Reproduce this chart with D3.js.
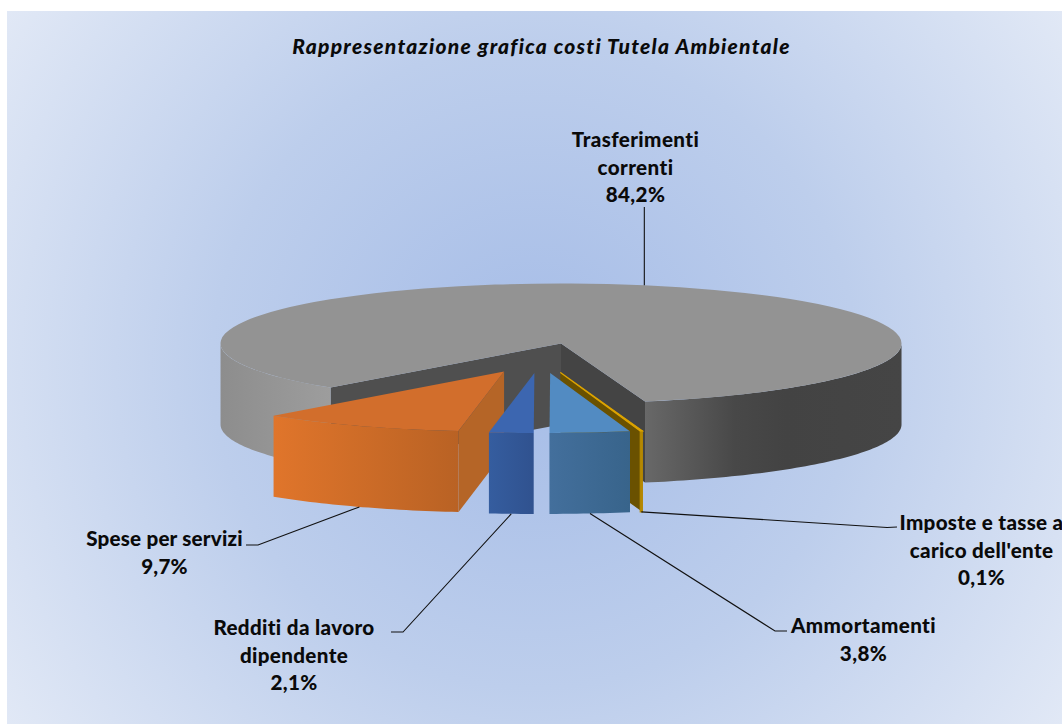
<!DOCTYPE html>
<html><head><meta charset="utf-8">
<script src="https://cdn.jsdelivr.net/npm/d3@7/dist/d3.min.js"></script>
<style>html,body{margin:0;padding:0;background:#fff;overflow:hidden}svg{display:block}text{font-family:Lato,sans-serif;font-weight:900;fill:#0a0a0a;text-anchor:middle;font-variant-ligatures:none;font-feature-settings:"liga" 0,"dlig" 0}</style>
</head><body><div id="chart"></div>
<script>
// ---- data ----
const categories = ["Trasferimenti correnti","Imposte e tasse a carico dell'ente","Ammortamenti","Redditi da lavoro dipendente","Spese per servizi"];
const values = [84.2,0.1,3.8,2.1,9.7];
const labelLines = [["Trasferimenti","correnti"],["Imposte e tasse a","carico dell'ente"],["Ammortamenti"],["Redditi da lavoro","dipendente"],["Spese per servizi"]];
const valueLabels = ["84,2%","0,1%","3,8%","2,1%","9,7%"];
const chartTitle = "Rappresentazione grafica costi Tutela Ambientale";

// ---- layout and style ----
const W=1062,H=724;
const cx=540.2,cy=358,rx=340.5,ry=60,depth=81,explode=0.25;
const startDeg=222.6;
const topColors=["#939393","#dca300","#528bc2","#3c66b0","#d26e2c"];
const wallStops=[
  null,
  ["#b58800","#b58800"],
  ["#436f9c","#38648b"],
  ["#355d9f","#30528f"],
  ["#e0752b","#b96224"]];
const cutColors=[null,"#6a5100",null,null,"#b56527"];
const labelPos=[ // centre x, first baseline, elbow
  {x:635.5,y:147,sp:0.4},
  {x:981.5,y:530,sp:0.3,elbow:[887,527.5],end:[897,527]},
  {x:863.5,y:633,sp:0.4,elbow:[775,631],end:[787,631]},
  {x:294,y:635,sp:0.35,elbow:[403,632],end:[391,632]},
  {x:164.5,y:546,sp:0.2,elbow:[258,545],end:[246,545]}];
const lineGap=27.7,fontSize=20.6;

const svg=d3.select("#chart").append("svg").attr("width",W).attr("height",H);
const defs=svg.append("defs");
const bg=defs.append("radialGradient").attr("id","bg").attr("gradientUnits","userSpaceOnUse")
  .attr("cx",534).attr("cy",366).attr("r",645);
[[0,"#a5bce7"],[0.5,"#bdceec"],[1,"#e2e9f6"]].forEach(s=>bg.append("stop").attr("offset",s[0]).attr("stop-color",s[1]));
svg.append("rect").attr("x",7).attr("y",11).attr("width",W-7).attr("height",H-11).attr("fill","url(#bg)");

const x=d3.scaleLinear().domain([-1,1]).range([cx-rx,cx+rx]);
const y=d3.scaleLinear().domain([-1,1]).range([cy-ry,cy+ry]);
// the printed shares add up to 99.9; the rounding remainder sits after the first slice
const remainder=100-d3.sum(values);
const pieInput=[values[0],remainder].concat(values.slice(1));
const arcs=d3.pie().sort(null).value(d=>d)
  .startAngle(startDeg*Math.PI/180)
  .endAngle((startDeg+360)*Math.PI/180)(pieInput)
  .filter((a,i)=>i!==1)
  .map((a,i)=>Object.assign(a,{index:i}));
const arcGen=d3.arc().innerRadius(0).outerRadius(1);

arcs.forEach(a=>{
  a.mid=(a.startAngle+a.endAngle)/2;
  a.dx=explode*Math.sin(a.mid); a.dy=-explode*Math.cos(a.mid);
  a.px=t=>x(a.dx+Math.sin(t)); a.py=t=>y(a.dy-Math.cos(t));
  a.ax=x(a.dx); a.ay=y(a.dy);
});
const line=d3.line();
function wallPath(a,t0,t1){
  const n=Math.max(2,Math.ceil(Math.abs(t1-t0)/0.02));
  const ts=d3.range(n+1).map(i=>t0+(t1-t0)*i/n);
  const up=ts.map(t=>[a.px(t),a.py(t)]);
  const dn=ts.slice().reverse().map(t=>[a.px(t),a.py(t)+depth]);
  return line(up.concat(dn))+"Z";
}
function hGrad(id,x0,x1,stops){
  const g=defs.append("linearGradient").attr("id",id).attr("gradientUnits","userSpaceOnUse")
    .attr("x1",x0).attr("x2",x1).attr("y1",0).attr("y2",0);
  stops.forEach(s=>g.append("stop").attr("offset",s[0]).attr("stop-color",s[1]));
  return "url(#"+id+")";
}
const chart=svg.append("g");
function cutFace(a,t,fill){
  return chart.append("path").attr("fill",fill).attr("d",line([
    [a.ax,a.ay],[a.px(t),a.py(t)],[a.px(t),a.py(t)+depth],[a.ax,a.ay+depth]])+"Z");
}
function topFace(a){
  const p=chart.append("path").attr("fill",topColors[a.index])
    .attr("transform",`translate(${a.ax},${a.ay}) scale(${rx},${ry})`)
    .attr("d",arcGen(a));
  if(a.value<1) p.attr("stroke",topColors[a.index]).attr("stroke-width",1.2).attr("vector-effect","non-scaling-stroke");
}
const PI=Math.PI;
// main slice: cut walls, rim, top
const m=arcs[0];
const endM=m.endAngle-2*PI;
cutFace(m,m.startAngle,"#4f4f4f");
cutFace(m,endM,"#444444");
chart.append("path").attr("d",wallPath(m,PI/2,endM))
  .attr("fill",hGrad("wR",m.px(endM),m.px(PI/2),[[0,"#686868"],[0.35,"#484848"],[0.55,"#434343"],[1,"#454545"]]));
chart.append("path").attr("d",wallPath(m,m.startAngle,1.5*PI))
  .attr("fill",hGrad("wL",m.px(1.5*PI),m.px(m.startAngle),[[0,"#8d8d8d"],[1,"#9d9d9d"]]));
topFace(m);

// exploded slices, back to front
[4,1,3,2].forEach(i=>{
  const a=arcs[i];
  if(cutColors[i]) cutFace(a,a.startAngle,cutColors[i]);
  const wall=chart.append("path").attr("d",wallPath(a,a.startAngle,a.endAngle))
    .attr("fill",hGrad("w"+i,a.px(a.endAngle),a.px(a.startAngle),[[0,wallStops[i][0]],[1,wallStops[i][1]]]));
  if(a.value<1) wall.attr("stroke",wallStops[i][0]).attr("stroke-width",1.2);
  topFace(a);
});

// leader lines
const leaders=svg.append("g").attr("fill","none").attr("stroke","#111").attr("stroke-width",1.1);
arcs.forEach((a,i)=>{
  const main=i===0, p=labelPos[i];
  const s=[a.px(a.mid),a.py(a.mid)+(main?0:depth)];
  const pts=main?[s,[s[0],207]]:[s,p.elbow,p.end];
  leaders.append("path").attr("d",line(pts));
});

// labels
arcs.forEach((a,i)=>{
  const p=labelPos[i];
  const lines=labelLines[i].concat([valueLabels[i]]);
  const t=svg.append("text").attr("font-size",fontSize).attr("letter-spacing",p.sp);
  lines.forEach((l,k)=>t.append("tspan").attr("x",p.x).attr("y",p.y+k*lineGap).text(l));
});
svg.append("text").attr("x",541.5).attr("y",54).attr("font-size",21).attr("letter-spacing",1.25).attr("font-style","italic").text(chartTitle);
</script></body></html>
